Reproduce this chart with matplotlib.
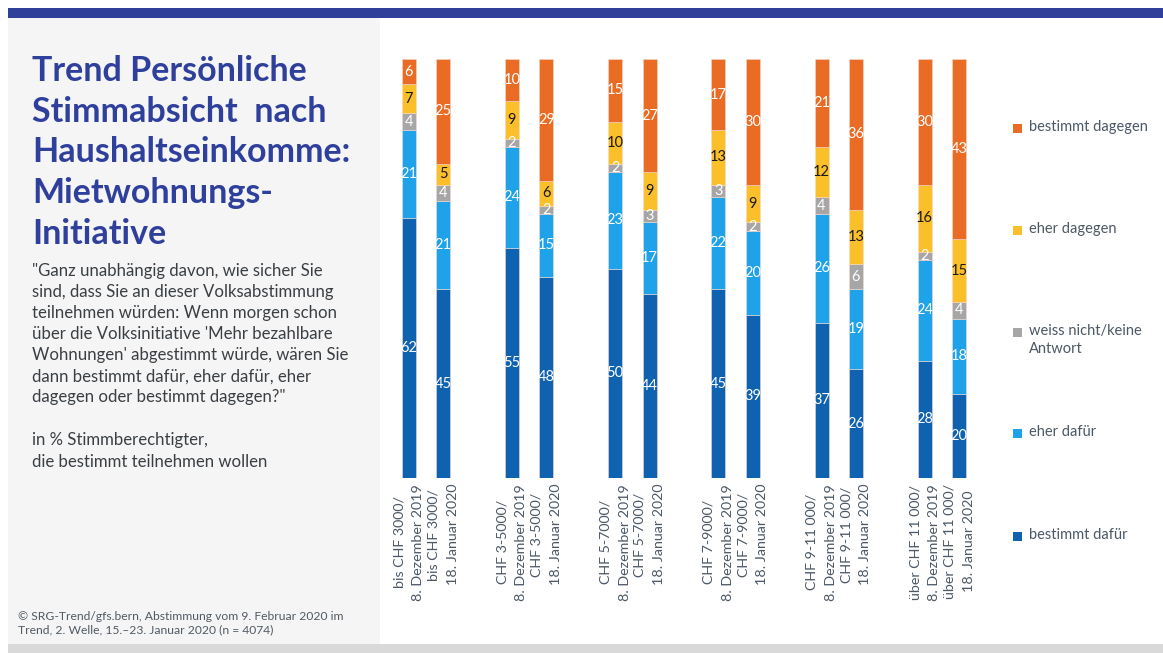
import numpy as np
import matplotlib.pyplot as plt
from matplotlib.patches import Rectangle

# survey results, one entry per bar (December / January for each income group)
groups = ['bis CHF 3000/', 'CHF 3-5000/', 'CHF 5-7000/', 'CHF 7-9000/',
          'CHF 9-11 000/', 'über CHF 11 000/']
waves = ['8. Dezember 2019', '18. Januar 2020']

bestimmt_dafuer = [62, 45, 55, 48, 50, 44, 45, 39, 37, 26, 28, 20]
eher_dafuer = [21, 21, 24, 15, 23, 17, 22, 20, 26, 19, 24, 18]
weiss_nicht = [4, 4, 2, 2, 2, 3, 3, 2, 4, 6, 2, 4]
eher_dagegen = [7, 5, 9, 6, 10, 9, 13, 9, 12, 13, 16, 15]
bestimmt_dagegen = [6, 25, 10, 29, 15, 27, 17, 30, 21, 36, 30, 43]

series = [bestimmt_dafuer, eher_dafuer, weiss_nicht, eher_dagegen, bestimmt_dagegen]
names = ['bestimmt dafür', 'eher dafür', 'weiss nicht/keine\nAntwort',
         'eher dagegen', 'bestimmt dagegen']
colors = ['#0f62b0', '#1ea2ea', '#a6a6a6', '#fbbf2a', '#e96b24']
text_cols = ['white', 'white', 'white', '#1a1a1a', 'white']

W, H = 1163, 653
fig = plt.figure(figsize=(W / 100, H / 100), dpi=100)
plt.rcParams['font.family'] = ['Lato', 'DejaVu Sans']

def px(x0, y0, w, h):
    return [x0 / W, 1 - (y0 + h) / H, w / W, h / H]

# background panels
bg = fig.add_axes([0, 0, 1, 1])
bg.set_xlim(0, W)
bg.set_ylim(H, 0)
bg.axis('off')
bg.add_patch(Rectangle((8, 8), W - 8, 10, color='#30409a', lw=0))
bg.add_patch(Rectangle((8, 18), 372, 626, color='#f5f5f5', lw=0))
bg.add_patch(Rectangle((8, 644), W - 8, 9, color='#d9d9d9', lw=0))

bg.text(32, 55, 'Trend Persönliche\nStimmabsicht  nach\nHaushaltseinkomme:\nMietwohnungs-\nInitiative',
        fontsize=24.5, fontweight='bold', color='#2f3f9c', va='top', ha='left',
        linespacing=1.335)
bg.text(32, 263, '"Ganz unabhängig davon, wie sicher Sie\nsind, dass Sie an dieser Volksabstimmung\n'
        'teilnehmen würden: Wenn morgen schon\nüber die Volksinitiative \'Mehr bezahlbare\n'
        'Wohnungen\' abgestimmt würde, wären Sie\ndann bestimmt dafür, eher dafür, eher\n'
        'dagegen oder bestimmt dagegen?"',
        fontsize=12.1, color='#3a3f44', va='top', ha='left', linespacing=1.39)
bg.text(32, 432, 'in % Stimmberechtigter,\ndie bestimmt teilnehmen wollen',
        fontsize=12.1, color='#3a3f44', va='top', ha='left', linespacing=1.45)
bg.text(18, 611, '© SRG-Trend/gfs.bern, Abstimmung vom 9. Februar 2020 im\n'
        'Trend, 2. Welle, 15.–23. Januar 2020 (n = 4074)',
        fontsize=8.75, color='#505a64', va='top', ha='left', linespacing=1.2)

# stacked bars
ax = fig.add_axes(px(380, 59, 620, 419))
unit = 34.4
xpos = np.array([g * 3 + i for g in range(len(groups)) for i in range(2)], dtype=float)
ax.set_xlim((380 - 408.7) / unit, (1000 - 408.7) / unit)
ax.set_ylim(0, 100)
ax.axis('off')

bottom = np.zeros(len(xpos))
for vals, col, tc in zip(series, colors, text_cols):
    vals = np.array(vals, dtype=float)
    ax.bar(xpos, vals, 14 / unit, bottom=bottom, color=col,
           edgecolor='#f3d9cf', linewidth=0.4)
    for x, b, v in zip(xpos, bottom, vals):
        ax.text(x, b + v / 2, '%d' % v, ha='center', va='center',
                fontsize=10.5, color=tc)
    bottom += vals

# rotated category labels
for k, x in enumerate(xpos):
    lab = groups[k // 2] + '\n' + waves[k % 2]
    ax.text(x, -1.4, lab, rotation=90, ha='center', va='top',
            multialignment='center', fontsize=10.3, color='#4b5866',
            linespacing=1.7)

# legend on the right
leg_y = [536, 433, 332, 230, 128]
for y, name, col in zip(leg_y, names, colors):
    bg.add_patch(Rectangle((1013, y - 4.5), 9, 9, color=col, lw=0))
    bg.text(1029, y - 8, name, fontsize=10.5, color='#4b5866', va='top',
            ha='left', linespacing=1.4)

fig.savefig('out.png', dpi=100)
